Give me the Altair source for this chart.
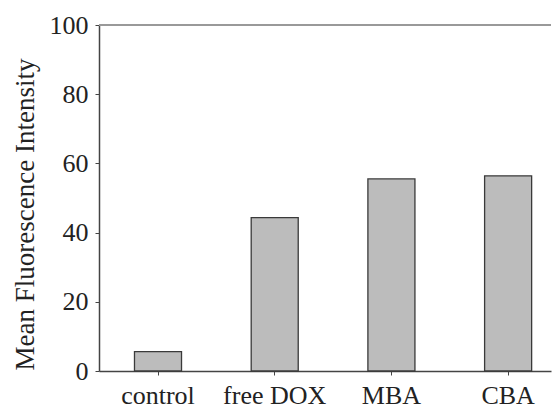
import altair as alt
import pandas as pd

groups = ["control", "free DOX", "MBA", "CBA"]
values = [5.6, 44.3, 55.5, 56.4]
y_ticks = [0, 20, 40, 60, 80, 100]

df = pd.DataFrame({"group": groups, "value": values})

base = alt.Chart(df)

bars = base.mark_bar(
    fill="#bcbcbc", stroke="#3a3a3a", strokeWidth=1.3
).encode(
    x=alt.X(
        "group:N",
        sort=groups,
        title=None,
        scale=alt.Scale(paddingInner=0.597, paddingOuter=0.235, align=0.647),
        axis=alt.Axis(
            labelAngle=0, labelFont="Liberation Serif", labelFontSize=26,
            labelColor="#222", labelPadding=7, tickSize=4, tickColor="#444",
            domainColor="#444", domainWidth=1.5, ticks=True,
        ),
    ),
    y=alt.Y(
        "value:Q",
        title="Mean Fluorescence Intensity",
        scale=alt.Scale(domain=[0, 100], nice=False),
        axis=alt.Axis(
            values=y_ticks, grid=False, labelFont="Liberation Serif",
            labelFontSize=26, labelColor="#222", labelPadding=7, tickSize=4,
            tickColor="#444", domainColor="#444", domainWidth=1.5,
            titleFont="Liberation Serif", titleFontSize=27,
            titleFontWeight="normal", titleColor="#222", titlePadding=10,
            titleY=189,
        ),
    ),
)

top = alt.Chart(pd.DataFrame({"y": [100]})).mark_rule(
    color="#999", strokeWidth=2
).encode(y="y:Q")

chart = alt.layer(bars, top).properties(
    width=452, height=346,
    padding={"left": 3, "top": 4, "right": 0, "bottom": 0},
).configure_view(stroke=None)

chart.save("out.html", embed_options={"renderer": "svg", "actions": False})
